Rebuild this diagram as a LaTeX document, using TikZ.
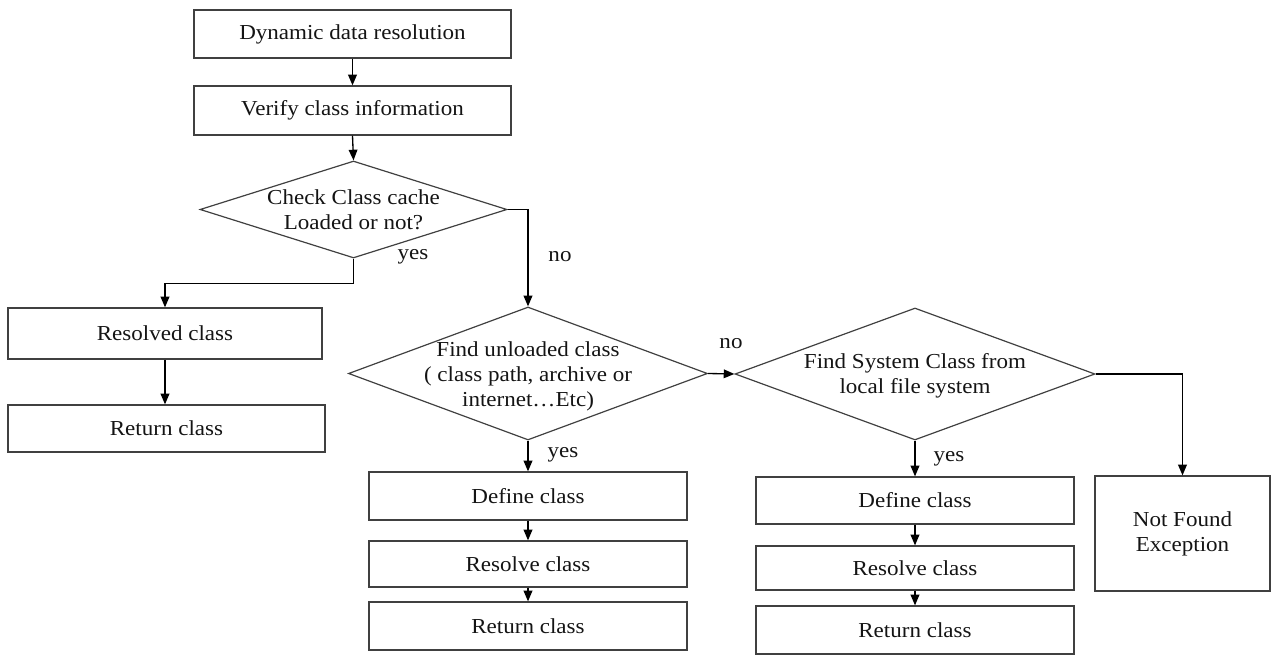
\documentclass[tikz,border=0pt]{standalone}
\usepackage{fontspec}
\setmainfont{Liberation Serif}[FakeStretch=1.08]
\usetikzlibrary{shapes.geometric,arrows.meta}
\def\u{0.75pt}
\definecolor{edgegray}{RGB}{64,64,64}
\definecolor{textgray}{RGB}{20,20,20}
\begin{document}
\begin{tikzpicture}[x=0.75pt,y=-0.75pt,
  every node/.style={font=\fontsize{16}{18.75}\selectfont, text=textgray},
  box/.style={draw=edgegray, line width=0.9pt, rectangle, inner sep=2pt, align=center},
  dia/.style={draw=edgegray, line width=0.9pt, diamond, inner sep=0pt},
  dtext/.style={align=center, font=\fontsize{16}{18.75}\selectfont, text=textgray},
  flow/.style={draw=black, line width=1pt, -{Triangle[length=8pt,width=6.5pt]}},
  lbl/.style={inner sep=1pt}]
\useasboundingbox (0,0) rectangle (1272,655);

% main column
\node[box, minimum width=317*\u, minimum height=48*\u] (b1) at (352.5,34) {Dynamic data resolution};
\node[box, minimum width=317*\u, minimum height=49*\u] (b2) at (352.5,110.5) {Verify class information};
\node[dia, minimum width=307*\u, minimum height=97*\u,
  label={[dtext]center:Check Class cache\\Loaded or not?}] (d1) at (353.5,209.5) {};

% left branch
\node[box, minimum width=314*\u, minimum height=51*\u] (rc) at (165,333.5) {Resolved class};
\node[box, minimum width=317*\u, minimum height=47*\u] (rt) at (166.5,428.5) {Return class};

% middle branch
\node[dia, minimum width=359*\u, minimum height=133*\u,
  label={[dtext, yshift=-3*\u]center:Find unloaded class\\( class path, archive or\\internet\ldots Etc)}] (d2) at (528,373.5) {};
\node[box, minimum width=318*\u, minimum height=48*\u] (mdef) at (528,496) {Define class};
\node[box, minimum width=318*\u, minimum height=46*\u] (mres) at (528,564) {Resolve class};
\node[box, minimum width=318*\u, minimum height=48*\u] (mret) at (528,626) {Return class};

% right branch
\node[dia, minimum width=360*\u, minimum height=132*\u,
  label={[dtext, yshift=-2*\u]center:Find System Class from\\local file system}] (d3) at (915,374) {};
\node[box, minimum width=318*\u, minimum height=47*\u] (rdef) at (915,500.5) {Define class};
\node[box, minimum width=318*\u, minimum height=44*\u] (rres) at (915,568) {Resolve class};
\node[box, minimum width=318*\u, minimum height=48*\u] (rret) at (915,630) {Return class};
\node[box, minimum width=175*\u, minimum height=115*\u] (nf) at (1182.5,533.5) {Not Found\\Exception};

% connectors
\draw[flow] (b1.south) -- (b2.north);
\draw[flow] (b2.south) -- (d1.north);
\draw[flow] (d1.south) -- ++(0,25) -| (rc.north);
\draw[flow] (d1.east) -| (d2.north);
\draw[flow] (rc.south) -- (rc.south |- rt.north);
\draw[flow] (d2.east) -- (d3.west);
\draw[flow] (d2.south) -- (mdef.north);
\draw[flow] (mdef.south) -- (mres.north);
\draw[flow] (mres.south) -- (mret.north);
\draw[flow] (d3.south) -- (rdef.north);
\draw[flow] (rdef.south) -- (rres.north);
\draw[flow] (rres.south) -- (rret.north);
\draw[flow] (d3.east) -| (nf.north);

% branch labels
\node[lbl] (y1) at (413,257) {yes};
\node[lbl] (n1) at (560,257) {no};
\node[lbl] (n2) at (731,344) {no};
\node[lbl] (y2) at (563,455) {yes};
\node[lbl] (y3) at (949,459) {yes};
\end{tikzpicture}
\end{document}
